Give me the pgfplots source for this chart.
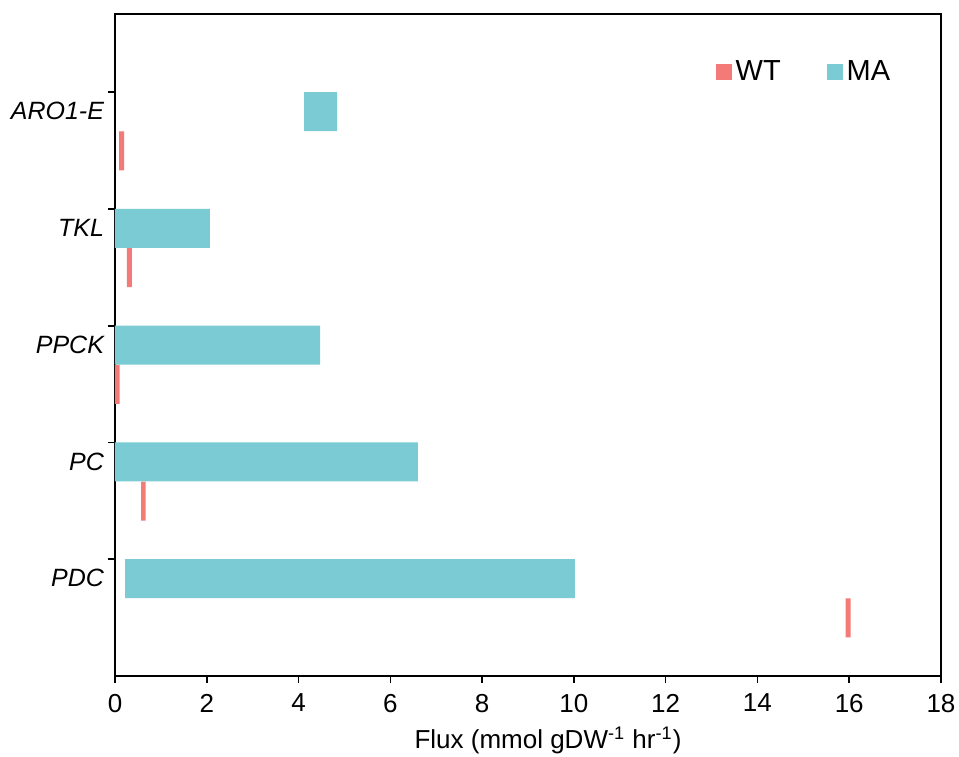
\documentclass[border=0pt]{standalone}
\usepackage{fontspec}
\setmainfont{Liberation Sans}
\usepackage{pgfplots}
\usepackage{pgfplotstable}
\pgfplotsset{compat=1.18}
\definecolor{wtc}{HTML}{F37A76}
\definecolor{mac}{HTML}{7ACBD3}
% y: bar centre, start, end, grp (1 = MA, 2 = WT)
\pgfplotstableread{
y       start  end    grp
-0.167  0.22   10.02  1
-0.503  15.92  16.03  2
0.833   0.00   6.60   1
0.497   0.57   0.67   2
1.833   0.00   4.47   1
1.497   0.00   0.10   2
2.833   0.00   2.07   1
2.497   0.26   0.37   2
3.833   4.12   4.84   1
3.497   0.09   0.20   2
}\fluxdata
\begin{document}
\begin{tikzpicture}
\useasboundingbox (-57.5pt,-40pt) rectangle (422pt,338pt);
\begin{axis}[
  at={(0,0)}, anchor=south west,
  scale only axis, width=413pt, height=331pt,
  xbar stacked, bar width=0.334,
  xmin=0, xmax=18, ymin=-1, ymax=4.67,
  xtick={0,2,...,18},
  ytick={0,1,2,3,4},
  yticklabels={PDC,PC,PPCK,TKL,ARO1-E},
  yticklabel style={font=\itshape\fontsize{12.5}{14}\selectfont, yshift=-9.5pt, xshift=1.5pt},
  xticklabel style={font=\fontsize{13}{15}\selectfont, yshift=-2pt},
  /pgf/number format/assume math mode=true,
  tick pos=left, tick align=outside,
  major tick length=3.5pt,
  major tick style={black, line width=0.8pt},
  axis line style={black, line width=0.8pt},
  xlabel={Flux (mmol gDW\textsuperscript{-1} hr\textsuperscript{-1})},
  xlabel style={font=\fontsize{13}{15}\selectfont, yshift=-0.5pt, xshift=10pt},
  legend style={draw=none, fill=none, at={(0.727,0.912)}, anchor=west,
    font=\fontsize{14.5}{16}\selectfont, inner sep=0pt,
    /tikz/every even column/.append style={column sep=21pt}},
  legend columns=2,
  legend cell align=left,
  clip=false,
]
\addplot[draw=none, fill=none, forget plot] table[x=start, y=y] {\fluxdata};
\addplot[draw=none, fill=mac, forget plot] table[x expr={ifthenelse(\thisrow{grp}==1,\thisrow{end}-\thisrow{start},0)}, y=y] {\fluxdata};
\addplot[draw=none, fill=wtc, forget plot] table[x expr={ifthenelse(\thisrow{grp}==2,\thisrow{end}-\thisrow{start},0)}, y=y] {\fluxdata};
\addlegendimage{legend image code/.code={\fill[wtc] (0pt,-3.75pt) rectangle (7.5pt,3.75pt);}}
\addlegendentry{WT}
\addlegendimage{legend image code/.code={\fill[mac] (0pt,-3.75pt) rectangle (7.5pt,3.75pt);}}
\addlegendentry{MA}
\end{axis}
\end{tikzpicture}
\end{document}
